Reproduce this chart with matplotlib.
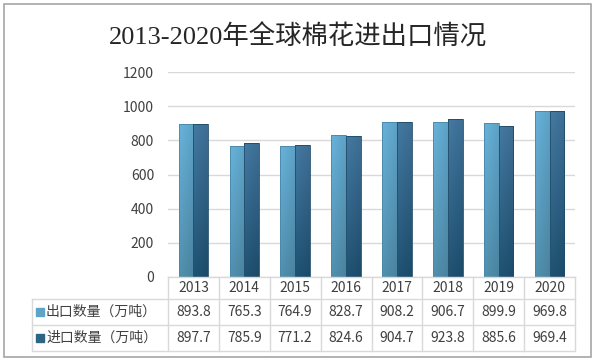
#!/usr/bin/env python3
import matplotlib as mpl
mpl.use("Agg")
import matplotlib.pyplot as plt
from matplotlib.patches import Rectangle
from matplotlib.colors import to_rgb
import numpy as np

plt.rcParams['font.family'] = ['Noto Sans CJK SC', 'DejaVu Sans']

YEARS = ['2013', '2014', '2015', '2016', '2017', '2018', '2019', '2020']
EXPORTS = [893.8, 765.3, 764.9, 828.7, 908.2, 906.7, 899.9, 969.8]
IMPORTS = [897.7, 785.9, 771.2, 824.6, 904.7, 923.8, 885.6, 969.4]
SERIES = ['出口数量（万吨）', '进口数量（万吨）']
TITLE = '2013-2020年全球棉花进出口情况'

C_EXP = '#5ea4c8'
C_IMP = '#2d6585'
# top / bottom shades for the bar gradients
EXP_GRAD = ('#62a9cf', '#4d88a5')
IMP_GRAD = ('#41739a', '#1d4e6d')
GRID = '#d9d9d9'
TEXT = '#404040'

W, H = 599, 361
fig = plt.figure(figsize=(W / 100, H / 100), dpi=100)


def fx(px):
    return px / W


def fy(py):
    return 1 - py / H


def gradient_fill(ax, bars, top, bottom):
    t, b = np.array(to_rgb(top)), np.array(to_rgb(bottom))
    v = np.linspace(0, 1, 64)[:, None]
    h = np.linspace(0, 1, 16)[None, :]
    img = t[None, None, :] * (1 - v[..., None]) + b[None, None, :] * v[..., None]
    # slightly lighter toward the left edge
    img = img * (1.06 - 0.1 * h[..., None])
    img = np.clip(img, 0, 1)
    for bar in bars:
        x0, y0 = bar.get_x(), bar.get_y()
        w, hgt = bar.get_width(), bar.get_height()
        im = ax.imshow(img, extent=(x0, x0 + w, y0, y0 + hgt), origin='upper',
                       aspect='auto', zorder=3, interpolation='bilinear')
        im.set_clip_path(bar)


# outer frame
fig.patches.append(Rectangle((fx(4), fy(357)), fx(587), 353 / H,
                             transform=fig.transFigure, fill=False,
                             edgecolor='#a6a6a6', linewidth=1.2))

fig.text(fx(298), fy(37), TITLE, ha='center', va='center', fontsize=19,
         color='#262626', family=['Liberation Serif', 'Noto Sans CJK SC'])

left, right, top, bottom = 168, 575, 72, 277
ax = fig.add_axes([fx(left), fy(bottom), fx(right - left), (bottom - top) / H])
x = np.arange(len(YEARS))
bw = 0.29
b1 = ax.bar(x - bw / 2, EXPORTS, bw, color='none', edgecolor='#4a86a8',
            linewidth=0.6, zorder=4)
b2 = ax.bar(x + bw / 2, IMPORTS, bw, color='none', edgecolor='#1f4a66',
            linewidth=0.6, zorder=4)
gradient_fill(ax, b1, *EXP_GRAD)
gradient_fill(ax, b2, *IMP_GRAD)
ax.set_xlim(-0.5, len(YEARS) - 0.5)
ax.set_ylim(0, 1200)
ax.set_yticks(range(0, 1201, 200))
ax.yaxis.grid(True, color=GRID, linewidth=1, zorder=0)
ax.set_axisbelow(True)
ax.set_xticks([])
ax.tick_params(axis='y', length=0, pad=10, labelsize=10, labelcolor=TEXT)
for s in ax.spines.values():
    s.set_visible(False)

# data table under the plot
line_kw = dict(color=GRID, linewidth=1, transform=fig.transFigure)
rows = [277, 299, 325, 351]
colw = (right - left) / len(YEARS)
fig.add_artist(plt.Line2D([fx(left), fx(right)], [fy(rows[0]), fy(rows[0])], **line_kw))
for r in rows[1:]:
    fig.add_artist(plt.Line2D([fx(32), fx(right)], [fy(r), fy(r)], **line_kw))
for i in range(len(YEARS) + 1):
    xp = left + i * colw
    fig.add_artist(plt.Line2D([fx(xp), fx(xp)], [fy(rows[0]), fy(rows[-1])], **line_kw))
fig.add_artist(plt.Line2D([fx(32), fx(32)], [fy(rows[1]), fy(rows[-1])], **line_kw))

for i, yr in enumerate(YEARS):
    cx = left + (i + 0.5) * colw
    fig.text(fx(cx), fy((rows[0] + rows[1]) / 2), yr, ha='center', va='center',
             fontsize=10, color=TEXT)
    for j, vals in enumerate([EXPORTS, IMPORTS]):
        fig.text(fx(cx), fy((rows[j + 1] + rows[j + 2]) / 2), f'{vals[i]:.1f}',
                 ha='center', va='center', fontsize=10, color=TEXT)

for j, (name, c) in enumerate(zip(SERIES, [C_EXP, C_IMP])):
    cy = (rows[j + 1] + rows[j + 2]) / 2
    fig.patches.append(Rectangle((fx(36), fy(cy + 4)), fx(8), 8 / H,
                                 transform=fig.transFigure, color=c))
    fig.text(fx(46), fy(cy), name, ha='left', va='center', fontsize=10, color=TEXT)

fig.savefig('out.png', dpi=100)
